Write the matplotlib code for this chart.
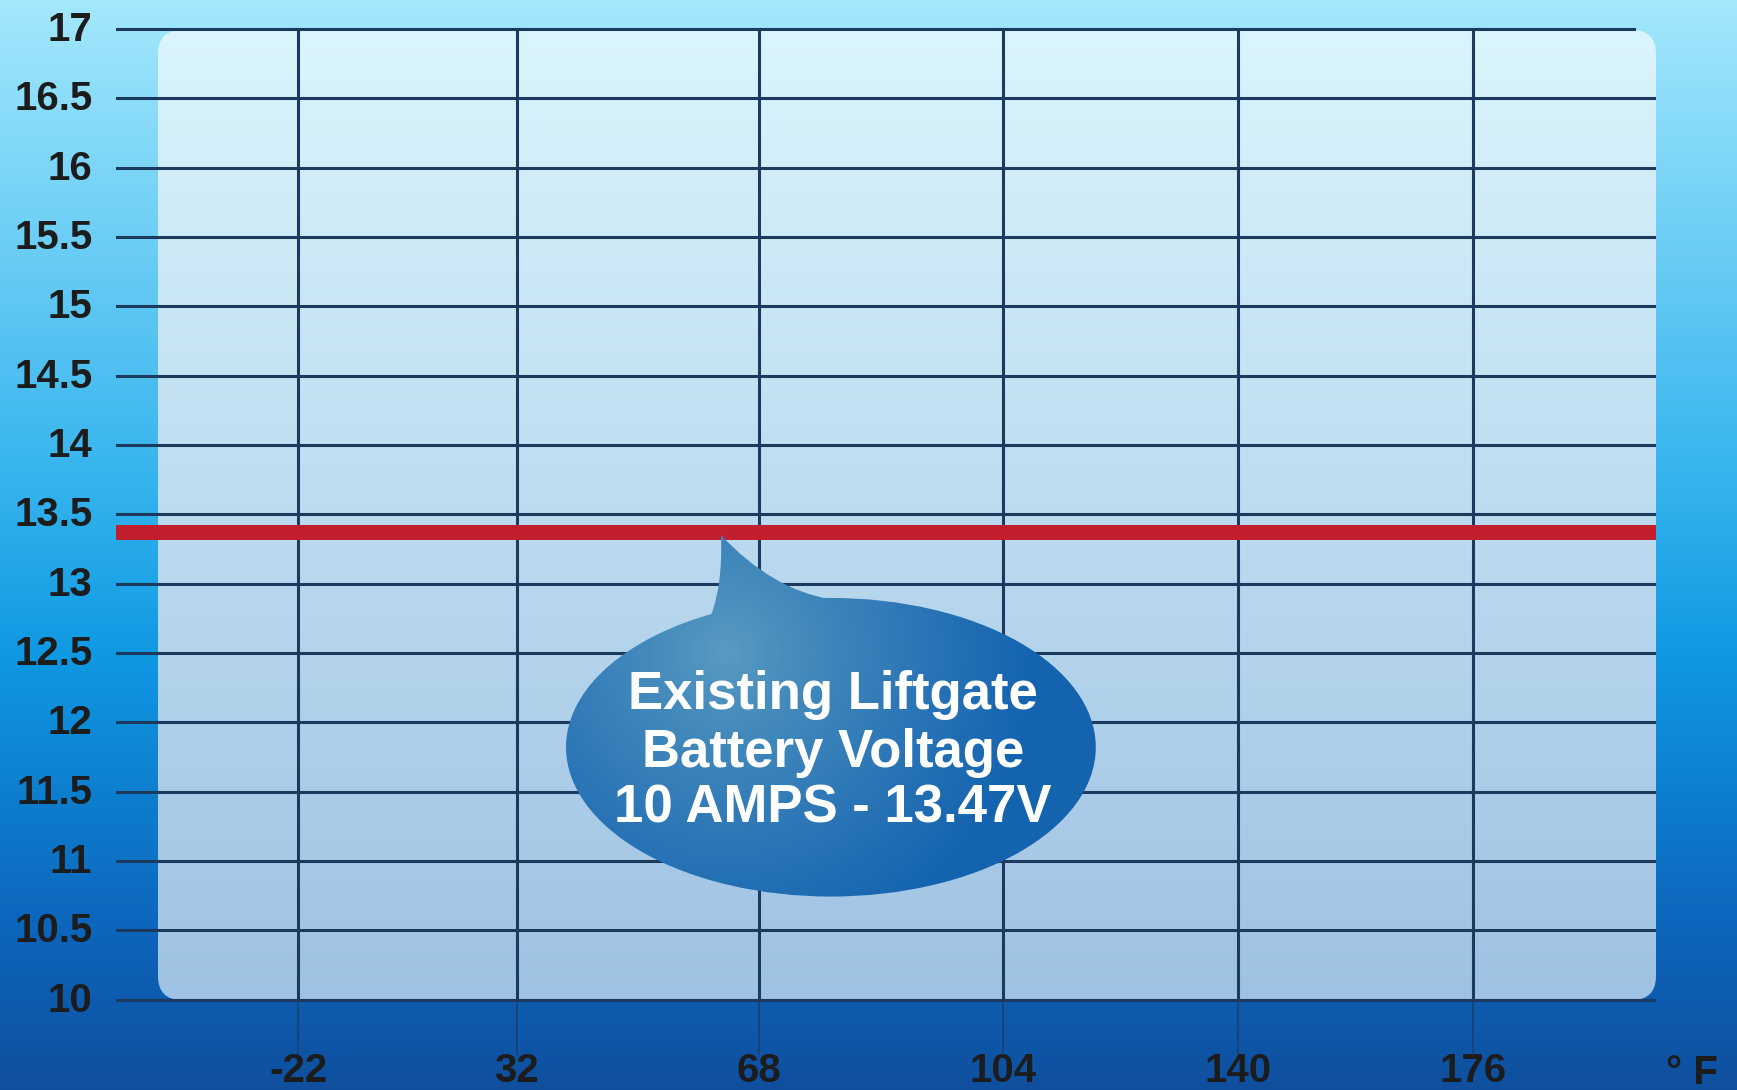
import numpy as np
import matplotlib
matplotlib.use("Agg")
import matplotlib.pyplot as plt
import matplotlib.transforms as mtrans
from matplotlib.patches import FancyBboxPatch, Ellipse, PathPatch
from matplotlib.path import Path

plt.rcParams['font.family'] = ['Liberation Sans', 'DejaVu Sans']

# data
temps_f = ['-22', '32', '68', '104', '140', '176']
volt_ticks = [10, 10.5, 11, 11.5, 12, 12.5, 13, 13.5, 14, 14.5, 15, 15.5, 16, 16.5, 17]
volt_labels = ['10', '10.5', '11', '11.5', '12', '12.5', '13', '13.5',
               '14', '14.5', '15', '15.5', '16', '16.5', '17']
battery_voltage = 13.37
bubble_lines = ['Existing Liftgate', 'Battery Voltage', '10 AMPS - 13.47V']

# posiciones de las columnas (dibujadas a mano en el original, no equiespaciadas)
temp_pos = [0, 0.93, 1.96, 3.0, 4.0, 5.0]

W, H = 1737, 1090
grid_c = '#1b3a5e'
label_c = '#1c1c1c'

fig = plt.figure(figsize=(W / 100, H / 100), dpi=100)

# fondo con degradado
bg = fig.add_axes([0, 0, 1, 1])
bg.axis('off')
stops = np.array([[0.0, 0.64, 0.91, 0.99],
                  [0.45, 0.20, 0.70, 0.93],
                  [0.6, 0.06, 0.60, 0.89],
                  [0.85, 0.05, 0.40, 0.74],
                  [1.0, 0.06, 0.31, 0.62]])
t = np.linspace(0, 1, 400)
grad = np.stack([np.interp(t, stops[:, 0], stops[:, k]) for k in (1, 2, 3)], axis=1)
grad = np.repeat(grad[:, None, :], 4, axis=1)
bg.imshow(grad, extent=(0, W, H, 0), aspect='auto', interpolation='bilinear')

# panel interior redondeado
panel = FancyBboxPatch((158, 30), 1498, 970, boxstyle='round,pad=0,rounding_size=24',
                       fc='none', ec='none')
bg.add_patch(panel)
t2 = np.linspace(0, 1, 300)
top_c = np.array([0.86, 0.96, 0.99])
bot_c = np.array([0.62, 0.76, 0.89])
pgrad = top_c[None, :] * (1 - t2[:, None]) + bot_c[None, :] * t2[:, None]
pgrad = np.repeat(pgrad[:, None, :], 4, axis=1)
im = bg.imshow(pgrad, extent=(158, 1656, 1000, 30), aspect='auto', interpolation='bilinear')
im.set_clip_path(panel)
bg.set_xlim(0, W)
bg.set_ylim(H, 0)

# ejes principales
ax_top, ax_bot = 25, 1055
ax = fig.add_axes([116 / W, 1 - ax_bot / H, (1656 - 116) / W, (ax_bot - ax_top) / H])
ax.patch.set_alpha(0)
xlim = (-0.775, 5.78)
ylim = (9.6, 17.03)
for s in ax.spines.values():
    s.set_visible(False)

for v in volt_ticks[:-1]:
    ax.axhline(v, color=grid_c, lw=2.2, zorder=2)
ax.axhline(volt_ticks[-1], xmax=0.986, color=grid_c, lw=2.2, zorder=2)
for p in temp_pos:
    ax.plot([p, p], [volt_ticks[0], volt_ticks[-1]], color=grid_c, lw=2.2, zorder=2,
            solid_capstyle='butt')
    ax.plot([p, p], [ylim[0], volt_ticks[0]], color=grid_c, lw=1.3, alpha=0.7,
            zorder=2, solid_capstyle='butt')

ax.set_yticks(volt_ticks, labels=volt_labels)
ax.set_xticks(temp_pos, labels=temps_f)
ax.tick_params(axis='y', length=0, pad=17, labelsize=29, labelcolor=label_c)
ax.tick_params(axis='x', length=0, pad=-2.5, labelsize=29, labelcolor=label_c)
up = mtrans.ScaledTranslation(0, 3 / 100, fig.dpi_scale_trans)
for tl in ax.get_yticklabels():
    tl.set_fontweight('bold')
    tl.set_transform(tl.get_transform() + up)
for tl in ax.get_xticklabels():
    tl.set_fontweight('bold')

fig.text(1692 / W, 1 - 1073 / H, '° F', ha='center', va='center',
         fontsize=29, fontweight='bold', color=label_c)

# linea roja
ax.axhline(battery_voltage, color='#c21f2e', lw=10.8, zorder=3)

# burbuja
cx, cy = 2.268, 11.82
ew, eh = 2.255, 2.154
ell = Ellipse((cx, cy), ew, eh, fc='none', ec='none', zorder=4)
ax.add_patch(ell)
tip = (1.80, battery_voltage - 0.02)
top_e = (cx, cy + eh / 2 - 0.01)
verts = [tip, (1.81, 12.95), (1.74, 12.70), (top_e[0], 12.70), top_e,
         (2.02, 12.955), tip, tip]
codes = [Path.MOVETO, Path.CURVE3, Path.CURVE3, Path.LINETO, Path.LINETO,
         Path.CURVE3, Path.CURVE3, Path.CLOSEPOLY]
tail = PathPatch(Path(verts, codes), fc='none', ec='none', zorder=4)
ax.add_patch(tail)

bx0, bx1, by0, by1 = 1.0, 3.5, 10.6, 13.5
gx = np.linspace(bx0, bx1, 300)
gy = np.linspace(by1, by0, 300)
XX, YY = np.meshgrid(gx, gy)
rr = np.sqrt(((XX - 1.82) * 235) ** 2 + ((YY - 12.5) * 138.8) ** 2) / 310
rr = np.clip(rr, 0, 1) ** 0.85
hi = np.array([0.35, 0.61, 0.76])
lo = np.array([0.08, 0.39, 0.69])
bimg = hi[None, None, :] * (1 - rr[..., None]) + lo[None, None, :] * rr[..., None]
for patch in (ell, tail):
    b = ax.imshow(bimg, extent=(bx0, bx1, by0, by1), aspect='auto',
                  interpolation='bilinear', zorder=4)
    b.set_clip_path(patch)
ax.set_xlim(*xlim)
ax.set_ylim(*ylim)

line_y = [12.20, 11.78, 11.38]
for txt, yy in zip(bubble_lines, line_y):
    ax.text(cx + 0.008, yy, txt, ha='center', va='center', color='white',
            fontsize=38, fontweight='bold', zorder=5)

fig.savefig('out.png', dpi=100)
